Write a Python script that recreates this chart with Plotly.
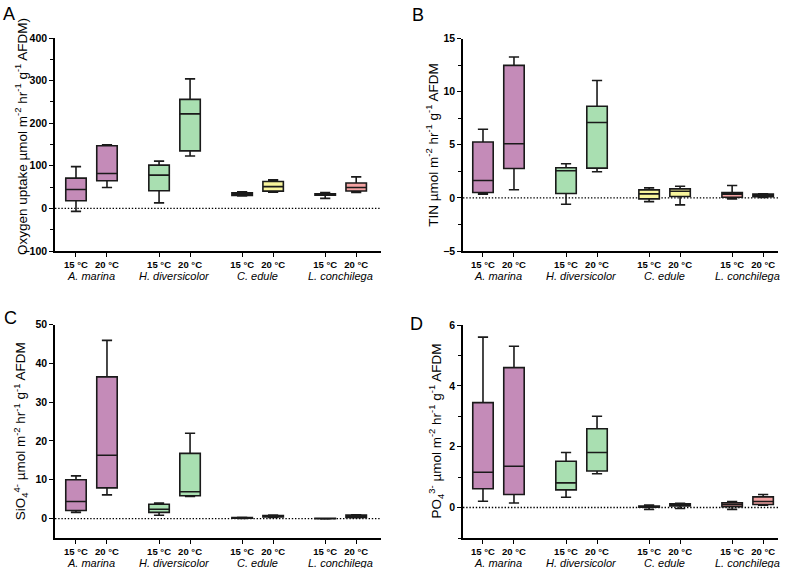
import plotly.graph_objects as go

# ---------------- data ----------------
species = ["A. marina", "H. diversicolor", "C. edule", "L. conchilega"]
temps = ["15 °C", "20 °C"]
# box order: A15, A20, H15, H20, C15, C20, L15, L20
fill_colors = ["#c48bb8", "#c48bb8", "#a9dfb1", "#a9dfb1",
               "#f8f59c", "#f8f59c", "#f4a3a3", "#f4a3a3"]

# Panel A: oxygen uptake
oxy_lo  = [-7, 49, 13, 123, 29, 38, 23.5, 37.5]
oxy_q1  = [18, 65, 41.5, 135, 30.5, 40.5, 31, 41]
oxy_med = [44.5, 82, 78, 222, 33.5, 51, 32.5, 49]
oxy_q3  = [71, 147, 101.5, 256, 36.5, 63, 34.5, 59.5]
oxy_hi  = [98, 149.5, 111, 304, 39, 67, 37.5, 74]

# Panel B: TIN
tin_lo  = [0.35, 0.76, -0.6, 2.46, -0.35, -0.66, -0.09, 0.03]
tin_q1  = [0.5, 2.77, 0.41, 2.8, -0.09, 0.13, 0.06, 0.1]
tin_med = [1.64, 5.1, 2.55, 7.09, 0.38, 0.63, 0.35, 0.22]
tin_q3  = [5.26, 12.47, 2.83, 8.63, 0.75, 0.85, 0.5, 0.35]
tin_hi  = [6.46, 13.26, 3.21, 11.05, 0.94, 1.1, 1.16, 0.38]

# Panel C: SiO4
si_lo  = [1.6, 6.1, 0.86, 5.7, 0.05, 0.3, -0.1, 0.2]
si_q1  = [2.1, 7.9, 1.6, 5.9, 0.1, 0.4, -0.05, 0.3]
si_med = [4.4, 16.3, 2.4, 6.9, 0.2, 0.6, 0.0, 0.6]
si_q3  = [10.0, 36.5, 3.7, 16.8, 0.3, 0.8, 0.05, 0.9]
si_hi  = [11.0, 45.9, 4.0, 22.0, 0.35, 0.9, 0.1, 1.0]

# Panel D: PO4
po_lo  = [0.21, 0.15, 0.34, 1.11, -0.06, -0.03, -0.06, 0.08]
po_q1  = [0.62, 0.43, 0.58, 1.2, 0.01, 0.05, 0.03, 0.1]
po_med = [1.16, 1.36, 0.81, 1.81, 0.04, 0.1, 0.1, 0.2]
po_q3  = [3.45, 4.6, 1.52, 2.59, 0.05, 0.12, 0.16, 0.35]
po_hi  = [5.6, 5.3, 1.81, 3.0, 0.08, 0.14, 0.2, 0.43]

y_titles = [
    "Oxygen uptake µmol m<sup>-2</sup> hr<sup>-1</sup> g<sup>-1</sup> AFDM)",
    "TIN µmol m<sup>-2</sup> hr<sup>-1</sup> g<sup>-1</sup> AFDM",
    "SiO<sub>4</sub><sup>4-</sup> µmol m<sup>-2</sup> hr<sup>-1</sup> g<sup>-1</sup> AFDM",
    "PO<sub>4</sub><sup>3-</sup> µmol m<sup>-2</sup> hr<sup>-1</sup> g<sup>-1</sup> AFDM",
]
panel_letters = ["A", "B", "C", "D"]

# ---------------- layout helpers ----------------
W, H = 785, 568
GROUP_STEP = 2.68
positions = [g * GROUP_STEP + t for g in range(len(species)) for t in range(len(temps))]
tick_text = [temps[t] for g in range(len(species)) for t in range(len(temps))]
group_centers = [g * GROUP_STEP + 0.5 for g in range(len(species))]

FONT = "Liberation Sans, Arial, sans-serif"

# pixel boxes: (x0, x1, ytop, ybottom), and x-range
panels = [
    dict(px=(55, 381), py=(38, 251), xr=(-0.677, 9.84)),
    dict(px=(463, 778), py=(38.5, 251), xr=(-0.645, 9.52)),
    dict(px=(55, 381), py=(324.5, 538), xr=(-0.677, 9.84)),
    dict(px=(463, 778), py=(325, 538), xr=(-0.645, 9.52)),
]
minor_common = dict(ticklen=3, ticks="outside", tickcolor="black", tickwidth=1.3)
yaxes_cfg = [
    dict(range=[-100, 400], tickvals=[-100, 0, 100, 200, 300, 400], minor=dict(dtick=50, tick0=0, **minor_common)),
    dict(range=[-5, 15], tickvals=[-5, 0, 5, 10, 15], minor=dict(dtick=2.5, tick0=0, **minor_common)),
    dict(range=[-5, 50], tickvals=[0, 10, 20, 30, 40, 50]),
    dict(range=[-1, 6], tickvals=[0, 2, 4, 6], minor=dict(dtick=1, tick0=0, **minor_common)),
]
stats = [
    (oxy_lo, oxy_q1, oxy_med, oxy_q3, oxy_hi),
    (tin_lo, tin_q1, tin_med, tin_q3, tin_hi),
    (si_lo, si_q1, si_med, si_q3, si_hi),
    (po_lo, po_q1, po_med, po_q3, po_hi),
]
letter_pos = [(1, 14), (410, 15), (2, 318), (408, 324)]
title_x = [21, 432, 21, 436]

fig = go.Figure()
layout = dict(
    width=W, height=H, autosize=False, margin=dict(l=0, r=0, t=0, b=0),
    paper_bgcolor="white", plot_bgcolor="white", showlegend=False,
    font=dict(family=FONT, color="black"),
)
annotations = []
shapes = []

for i, p in enumerate(panels):
    sfx = "" if i == 0 else str(i + 1)
    xa, ya = "x" + sfx, "y" + sfx
    lo, q1, med, q3, hi = stats[i]
    for k, pos in enumerate(positions):
        fig.add_trace(go.Box(
            x=[pos], q1=[q1[k]], median=[med[k]], q3=[q3[k]],
            lowerfence=[lo[k]], upperfence=[hi[k]],
            fillcolor=fill_colors[k], line=dict(color="#1a1a1a", width=1.6),
            width=0.66, whiskerwidth=0.5, boxpoints=False,
            xaxis=xa, yaxis=ya, hoverinfo="skip",
        ))
    x0, x1 = p["px"]
    yt, yb = p["py"]
    layout["xaxis" + sfx] = dict(
        domain=[x0 / W, x1 / W], range=list(p["xr"]), anchor=ya, automargin=False,
        showline=True, linecolor="black", linewidth=1.5,
        ticks="outside", ticklen=4, tickwidth=1.3, tickcolor="black",
        tickvals=positions, ticktext=tick_text,
        tickfont=dict(family=FONT, size=9.5, color="black", weight="bold"),
        showgrid=False, zeroline=False, fixedrange=True,
    )
    ycfg = yaxes_cfg[i]
    layout["yaxis" + sfx] = dict(
        domain=[(H - yb) / H, (H - yt) / H], anchor=xa, automargin=False,
        showline=True, linecolor="black", linewidth=1.5,
        ticks="outside", ticklen=4, tickwidth=1.3, tickcolor="black",
        tickfont=dict(family=FONT, size=10.5, color="black", weight="bold"),
        showgrid=False, zeroline=False, fixedrange=True, **ycfg,
    )
    # dotted zero line
    shapes.append(dict(type="line", xref=xa + " domain", yref=ya, x0=0, x1=1, y0=0, y1=0,
                       line=dict(color="black", width=1.4, dash="1.4px,1.8px"), layer="below"))
    # species labels
    for g, c in enumerate(group_centers):
        annotations.append(dict(
            x=c, y=-0.116, xref=xa, yref=ya + " domain", text="<i>" + species[g] + "</i>",
            showarrow=False, xanchor="center", yanchor="middle",
            font=dict(family=FONT, size=11, color="black"),
        ))
    # y title
    ymid = (H - (yt + yb) / 2) / H
    if i == 0:
        ymid = (H - 137) / H
    annotations.append(dict(
        x=title_x[i] / W, y=ymid, xref="paper", yref="paper", text=y_titles[i],
        textangle=-90, showarrow=False, xanchor="center", yanchor="middle",
        font=dict(family=FONT, size=13.5, color="black"),
    ))
    # panel letter
    lx, ly = letter_pos[i]
    annotations.append(dict(
        x=lx / W, y=(H - ly) / H, xref="paper", yref="paper", text=panel_letters[i],
        showarrow=False, xanchor="left", yanchor="middle",
        font=dict(family=FONT, size=18, color="black"),
    ))

layout["annotations"] = annotations
layout["shapes"] = shapes
fig.update_layout(**layout)
fig.write_html("out.html", config={"displayModeBar": False},
               post_script="document.body.style.margin='0px';")
